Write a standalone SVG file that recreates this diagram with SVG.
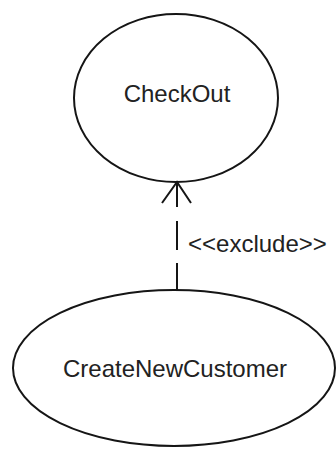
<svg xmlns="http://www.w3.org/2000/svg" width="336" height="450" viewBox="0 0 336 450">
  <style>
    .usecase { fill: #ffffff; stroke: #151515; stroke-width: 2; }
    .label { font-family: "Liberation Sans", Arial, sans-serif; font-size: 24px; fill: #222222; }
    .dep { stroke: #151515; stroke-width: 2; fill: none; }
  </style>
  <rect width="336" height="450" fill="#ffffff"/>
  <g id="CheckOut">
    <ellipse class="usecase" cx="176" cy="98" rx="102" ry="84"/>
    <text class="label" x="177" y="102" text-anchor="middle">CheckOut</text>
  </g>
  <g id="CreateNewCustomer">
    <ellipse class="usecase" cx="174" cy="368" rx="161" ry="78"/>
    <text class="label" x="175" y="377" text-anchor="middle">CreateNewCustomer</text>
  </g>
  <g id="connectors">
    <!-- dashed <<exclude>> dependency, drawn from the lower use case upward -->
    <path class="dep" d="M177 290 V182" stroke-dasharray="27 13 29 14 25"/>
    <path class="dep" d="M162 203 L177 182 L191 203"/>
    <text class="label" x="188" y="252">&lt;&lt;exclude&gt;&gt;</text>
  </g>
</svg>
